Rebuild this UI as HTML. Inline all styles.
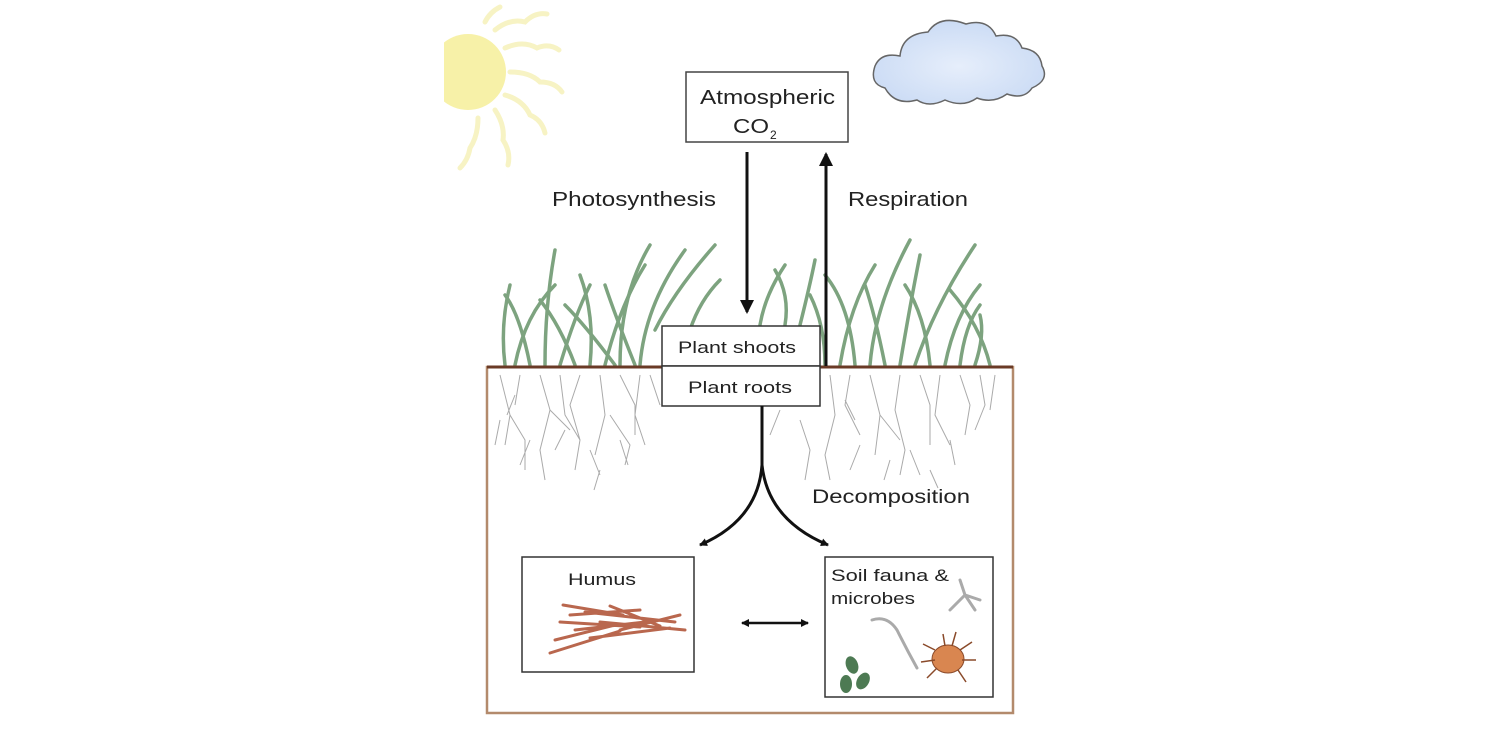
<!DOCTYPE html>
<html><head><style>
html,body{margin:0;padding:0;background:#fff;}
svg{display:block}
text{font-family:"Liberation Sans",Arial,sans-serif;fill:#222}
</style></head><body>
<svg width="1502" height="747" viewBox="0 0 1502 747" xmlns="http://www.w3.org/2000/svg">
<defs>
<marker id="ah" markerWidth="8" markerHeight="8" refX="7" refY="4" orient="auto-start-reverse" markerUnits="userSpaceOnUse">
<path d="M0,0 L8,4 L0,8 Z" fill="#111"/></marker>
<marker id="ahb" markerWidth="14" markerHeight="14" refX="12" refY="7" orient="auto" markerUnits="userSpaceOnUse">
<path d="M0,0 L14,7 L0,14 Z" fill="#111"/></marker>
<radialGradient id="cg" cx="50%" cy="55%" r="60%"><stop offset="0" stop-color="#e6eefb"/><stop offset="1" stop-color="#c9daf4"/></radialGradient>
<clipPath id="sc"><rect x="444" y="0" width="200" height="200"/></clipPath>
</defs>
<!-- sun -->
<g clip-path="url(#sc)">
<g stroke="#f7f3c4" stroke-width="5" fill="none" stroke-linecap="round">
<path d="M495,30 q15,-12 30,-8 q10,-10 22,-8"/>
<path d="M505,48 q18,-8 32,0 q12,-5 22,2"/>
<path d="M510,72 q20,0 30,10 q15,0 22,10"/>
<path d="M505,95 q18,5 25,20 q12,5 15,18"/>
<path d="M495,110 q10,15 8,30 q8,12 5,25"/>
<path d="M478,118 q0,18 -8,30 q-2,12 -10,20"/>
<path d="M485,22 q5,-10 15,-15"/>
</g>
<circle cx="468" cy="72" r="38" fill="#f7f1a8"/>
</g>
<!-- cloud -->
<path d="M885,88 q-16,-4 -10,-22 q6,-14 25,-10 q2,-22 28,-24 q12,-18 38,-8 q22,-6 30,12 q20,-4 26,12 q18,2 20,18 q8,14 -10,22 q-8,12 -25,6 q-14,10 -30,4 q-14,10 -32,2 q-16,8 -28,0 q-22,6 -32,-12 z" fill="url(#cg)" stroke="#666" stroke-width="1.5"/>
<!-- grass -->
<g stroke="#6f9a72" stroke-width="3.5" fill="none" stroke-linecap="round" opacity="0.9">
<path d="M505,365 q-5,-40 5,-80"/><path d="M515,365 q10,-50 40,-80"/><path d="M530,365 q-10,-50 -25,-70"/>
<path d="M545,365 q0,-60 10,-115"/><path d="M560,365 q15,-50 30,-80"/><path d="M575,365 q-15,-40 -35,-65"/>
<path d="M590,365 q5,-50 -10,-90"/><path d="M605,365 q15,-60 40,-100"/><path d="M620,365 q0,-70 30,-120"/>
<path d="M640,365 q5,-60 45,-115"/><path d="M655,330 q20,-40 60,-85"/><path d="M635,365 q-20,-50 -30,-80"/>
<path d="M615,365 q-30,-40 -50,-60"/><path d="M690,330 q10,-30 30,-50"/>
<path d="M760,325 q5,-30 25,-60"/><path d="M785,325 q5,-30 -10,-55"/><path d="M800,325 q10,-40 15,-65"/>
<path d="M840,365 q10,-60 35,-100"/><path d="M855,365 q-5,-60 -30,-90"/><path d="M870,365 q5,-60 40,-125"/>
<path d="M885,365 q-10,-50 -20,-80"/><path d="M900,365 q10,-60 20,-110"/><path d="M915,365 q20,-60 60,-120"/>
<path d="M930,365 q-5,-50 -25,-80"/><path d="M945,365 q10,-50 35,-80"/><path d="M960,365 q5,-40 20,-60"/>
<path d="M975,365 q10,-30 5,-50"/><path d="M990,365 q-10,-40 -40,-75"/><path d="M825,365 q0,-40 -15,-70"/>
</g>
<!-- roots -->
<g stroke="#aaa" stroke-width="1" fill="none">
<path d="M500,375 l10,40 l-5,30 M510,415 l15,25 l0,30 M520,375 l-5,30 M540,375 l10,35 l-10,40 l5,30 M550,410 l20,20 M560,375 l5,40 l15,25 l-5,30 M580,375 l-10,30 l10,35 M600,375 l5,40 l-10,40 M610,415 l20,30 l-5,20 M620,375 l15,30 l0,30 M640,375 l-5,40 l10,30 M650,375 l10,30 M500,420 l-5,25 M530,440 l-10,25 M590,450 l10,25 M515,395 l-8,20 M565,430 l-10,20 M620,440 l8,25 M600,470 l-6,20"/>
<path d="M830,375 l5,40 l-10,40 l5,25 M850,375 l-5,30 l15,30 M870,375 l10,40 l-5,40 M880,415 l20,25 M900,375 l-5,35 l10,40 l-5,25 M920,375 l10,30 l0,40 M940,375 l-5,40 l15,30 M960,375 l10,30 l-5,30 M980,375 l5,30 l-10,25 M995,375 l-5,35 M800,420 l10,30 l-5,30 M780,410 l-10,25 M860,445 l-10,25 M910,450 l10,25 M950,440 l5,25 M845,400 l10,20 M890,460 l-6,20 M930,470 l8,18"/>
</g>
<!-- soil -->
<rect x="487" y="367" width="526" height="346" fill="none" stroke="#b38a6c" stroke-width="2.5"/>
<line x1="487" y1="367" x2="1013" y2="367" stroke="#6a3a26" stroke-width="3"/>
<!-- atm box -->
<rect x="686" y="72" width="162" height="70" fill="#fff" stroke="#444" stroke-width="1.5"/>
<text x="700" y="104" font-size="20" textLength="135" lengthAdjust="spacingAndGlyphs">Atmospheric</text>
<text x="733" y="133" font-size="20" textLength="36" lengthAdjust="spacingAndGlyphs">CO</text>
<text x="770" y="139" font-size="12">2</text>
<!-- arrows -->
<line x1="747" y1="152" x2="747" y2="312" stroke="#111" stroke-width="3" marker-end="url(#ahb)"/>
<line x1="826" y1="366" x2="826" y2="154" stroke="#111" stroke-width="3" marker-end="url(#ahb)"/>
<text x="552" y="206" font-size="20" textLength="164" lengthAdjust="spacingAndGlyphs">Photosynthesis</text>
<text x="848" y="206" font-size="20" textLength="120" lengthAdjust="spacingAndGlyphs">Respiration</text>
<!-- plant boxes -->
<rect x="662" y="326" width="158" height="40" fill="#fff" stroke="#333" stroke-width="1.5"/>
<rect x="662" y="366" width="158" height="40" fill="#fff" stroke="#333" stroke-width="1.5"/>
<text x="678" y="353" font-size="17" textLength="118" lengthAdjust="spacingAndGlyphs">Plant shoots</text>
<text x="688" y="393" font-size="17" textLength="104" lengthAdjust="spacingAndGlyphs">Plant roots</text>
<!-- decomposition -->
<path d="M762,406 L762,465 Q758,520 700,545" stroke="#111" stroke-width="3" fill="none" marker-end="url(#ah)"/>
<path d="M762,465 Q768,520 828,545" stroke="#111" stroke-width="3" fill="none" marker-end="url(#ah)"/>
<text x="812" y="503" font-size="19" textLength="158" lengthAdjust="spacingAndGlyphs">Decomposition</text>
<!-- humus -->
<rect x="522" y="557" width="172" height="115" fill="#fff" stroke="#333" stroke-width="1.5"/>
<text x="568" y="585" font-size="17" textLength="68" lengthAdjust="spacingAndGlyphs">Humus</text>
<g stroke="#b9674e" stroke-width="3" stroke-linecap="round">
<path d="M563,605 l60,10 M570,615 l70,-5 M560,622 l80,5 M575,630 l70,-8 M555,640 l60,-15 M550,653 l70,-22 M585,612 l90,10 M600,622 l85,8 M620,630 l60,-15 M590,638 l80,-10 M610,606 l50,20"/>
</g>
<!-- double arrow -->
<line x1="742" y1="623" x2="808" y2="623" stroke="#111" stroke-width="2.5" marker-end="url(#ah)" marker-start="url(#ah)"/>
<!-- soil fauna -->
<rect x="825" y="557" width="168" height="140" fill="#fff" stroke="#333" stroke-width="1.5"/>
<text x="831" y="581" font-size="17" textLength="118" lengthAdjust="spacingAndGlyphs">Soil fauna &amp;</text>
<text x="831" y="604" font-size="17" textLength="84" lengthAdjust="spacingAndGlyphs">microbes</text>
<g stroke="#aaa" stroke-width="3" fill="none" stroke-linecap="round">
<path d="M950,610 l15,-15 l15,5 M965,595 l-5,-15 M965,595 l10,15"/>
<path d="M872,620 q15,-5 25,10 q10,20 20,38"/>
</g>
<ellipse cx="948" cy="659" rx="16" ry="14" fill="#d98650" stroke="#8a4a2a"/>
<g stroke="#8a4a2a" stroke-width="1.5"><path d="M935,650 l-12,-6 M935,660 l-14,2 M937,668 l-10,10 M960,650 l12,-8 M962,660 l14,0 M958,670 l8,12 M945,646 l-2,-12 M952,646 l4,-14"/></g>
<g fill="#4d7a53"><ellipse cx="852" cy="665" rx="6" ry="9" transform="rotate(-20 852 665)"/><ellipse cx="846" cy="684" rx="6" ry="9"/><ellipse cx="863" cy="681" rx="6" ry="9" transform="rotate(30 863 681)"/></g>
</svg>
</body></html>
